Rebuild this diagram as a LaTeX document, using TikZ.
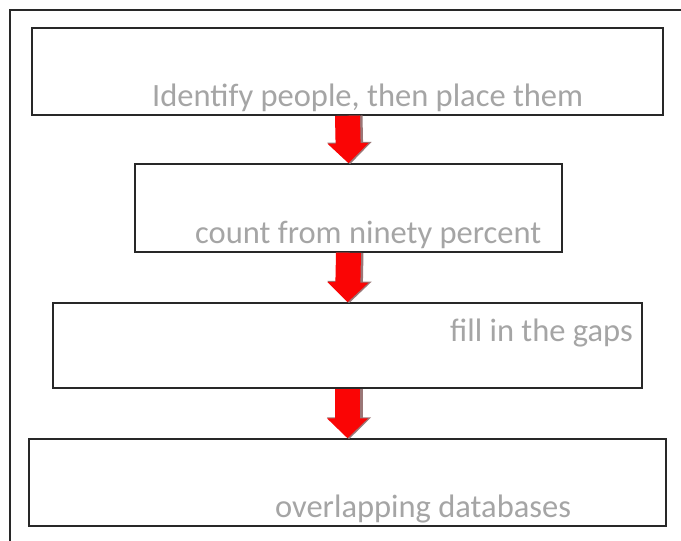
\documentclass[tikz,border=0pt]{standalone}
\usepackage{fontspec}
\setmainfont{Carlito}
\definecolor{framegray}{RGB}{40,40,40}
\definecolor{textgray}{RGB}{165,165,165}
\definecolor{arrowred}{RGB}{250,5,5}
\definecolor{shadegray}{RGB}{110,60,60}
\usetikzlibrary{arrows.meta}

\begin{document}
\begin{tikzpicture}[
      x=1pt,
      y=-1pt,
      stage/.style={
        draw=framegray, line width=1.5pt, fill=white,
        minimum width=#1, minimum height=87pt, inner sep=0pt
      },
      steptext/.style={font=\fontsize{32.5}{34}\selectfont, text=textgray,
        anchor=base west, inner sep=0pt},
      flow/.style={arrowred, line width=25pt,
        -{Triangle[width=40pt,length=20pt]}},
      flowshade/.style={shadegray!70, line width=27pt,
        -{Triangle[width=43pt,length=22pt]}}
    ]
    \clip (0,0) rectangle (681,541);
    \fill[white] (0,0) rectangle (681,541);
    \draw[framegray, line width=2.5pt] (10,10) rectangle (700,560);

    % the four stages
    \node[stage=631pt] (identify) at (347.5,71.5) {};
    \node[steptext] (identifytext) at (152,106)
      {Identify people, then place them};

    \node[stage=427pt, minimum height=88pt] (count) at (348.5,208) {};
    \node[steptext] (counttext) at (195,243) {count from ninety percent};

    \node[stage=589pt, minimum height=85pt] (gaps) at (347.5,345.5) {};
    \node[steptext] (gapstext) at (450,341) {fill in the gaps};

    \node[stage=637pt] (overlap) at (347.5,482.5) {};
    \node[steptext] (overlaptext) at (275,517) {overlapping databases};

    \foreach \a/\b in {identify/count,count/gaps,gaps/overlap}{
      \draw[flowshade] ([xshift=1.5pt]\a.south) -- ([xshift=1.5pt,yshift=-1pt]\b.north);
      \draw[flow] (\a.south) -- (\b.north);
    }
  \end{tikzpicture}
\end{document}
